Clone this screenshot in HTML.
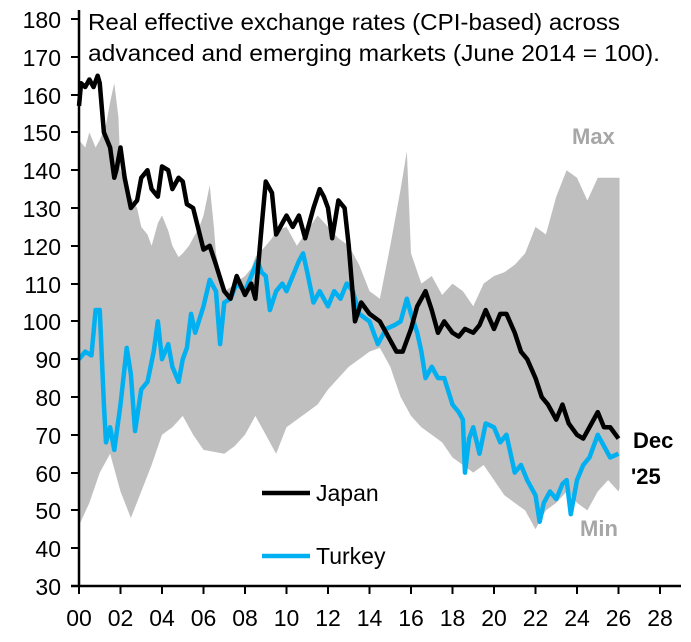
<!DOCTYPE html>
<html><head><meta charset="utf-8"><style>
body{margin:0;background:#fff;}
svg text{font-family:"Liberation Sans",Calibri,sans-serif;}
</style></head><body>
<svg width="691" height="637" xmlns="http://www.w3.org/2000/svg">
<g transform="translate(79,586) scale(20.75,-3.78)">
<polygon fill="#bfbfbf" points="0,118 0.3,116 0.5,120 0.8,116 1,118 1.3,122 1.5,128 1.7,133 1.9,124 2,110 2.3,106 2.5,103 2.8,100 3,95 3.3,93 3.5,90 3.8,96 4,98 4.3,94 4.5,90 4.8,87 5,88 5.3,90 5.5,92 5.8,95 6,98 6.3,106 6.5,95 6.6,88 7,78 7.3,79 7.5,80 8,82 8.3,84 8.5,87 9,90 9.3,92 9.5,94 10,95 10.3,92 10.5,90 11,94 11.5,98 12,95 12.5,92 13,90 13.5,85 14,78 14.5,76 15,90 15.5,105 15.8,115 16,88 16.5,80 17,82 17.5,77 18,80 18.5,78 19,74 19.5,80 20,82 20.5,83 21,85 21.5,88 22,95 22.5,93 23,103 23.5,110 24,108 24.5,102 25,108 25.5,108 26,108 26.05,108 26.05,26 26,25 25.5,28 25,25 24.5,20 24,22 23.5,25 23,22 22.5,20 22,15 21.5,20 21,22 20.5,24 20,28 19.5,32 19,30 18.5,32 18,34 17.5,38 17,40 16.5,42 16,45 15.5,50 15,58 14.5,63 14,62 13.5,60 13,58 12.5,55 12,52 11.5,48 11,46 10,42 9.5,35 9,40 8.5,45 8,40 7.5,37 7,35 6,36 5.5,40 5,45 4.5,42 4,40 3.5,32 3,25 2.5,18 2,25 1.5,35 1,30 0.5,22 0,16"/>
<polyline fill="none" stroke="#00b0f0" stroke-width="4.5" stroke-linejoin="round" vector-effect="non-scaling-stroke" points="0,60 0.3,62 0.6,61 0.8,73 1,73 1.2,48 1.3,38 1.5,42 1.7,36 2,48 2.3,63 2.5,56 2.7,41 3,52 3.3,54 3.6,62 3.8,70 4,60 4.3,64 4.5,58 4.8,54 5,60 5.2,63 5.4,72 5.6,67 6,74 6.3,81 6.6,78 6.8,64 7,75 7.3,76 7.6,80 8,78 8.3,82 8.6,86 8.8,83 9,82 9.2,73 9.5,78 9.8,80 10,78 10.3,82 10.6,86 10.8,88 11,83 11.3,75 11.6,78 12,74 12.3,78 12.6,76 12.9,80 13.2,78 13.5,72 14,70 14.4,64 14.8,68 15.2,69 15.5,70 15.8,76 16,72 16.3,67 16.5,62 16.7,55 17,58 17.3,55 17.6,55 18,48 18.3,46 18.5,44 18.6,30 18.8,39 19,42 19.3,35 19.6,43 20,42 20.3,38 20.6,40 21,30 21.3,32 21.6,28 22,24 22.2,17 22.4,22 22.7,25 23,23 23.3,27 23.5,28 23.7,19 24,28 24.3,32 24.6,34 25,40 25.3,37 25.6,34 26,35"/>
<polyline fill="none" stroke="#000" stroke-width="4.5" stroke-linejoin="round" vector-effect="non-scaling-stroke" points="0,127 0.1,133 0.3,132 0.5,134 0.7,132 0.9,135 1,133 1.2,120 1.5,116 1.7,108 1.8,110 2,116 2.2,108 2.5,100 2.8,102 3,108 3.3,110 3.5,105 3.8,103 4,111 4.3,110 4.5,105 4.8,108 5,107 5.2,101 5.5,100 6,89 6.3,90 6.6,85 7,78 7.3,76 7.6,82 8,77 8.3,80 8.5,76 8.8,95 9,107 9.3,104 9.5,93 9.8,96 10,98 10.3,95 10.6,98 10.9,92 11.3,100 11.6,105 11.8,103 12,100 12.2,92 12.5,102 12.8,100 13,90 13.3,70 13.6,75 14,72 14.5,70 14.8,67 15,65 15.3,62 15.6,62 16,68 16.3,74 16.7,78 17,73 17.3,67 17.6,70 18,67 18.3,66 18.6,68 19,67 19.3,69 19.6,73 20,68 20.3,72 20.6,72 21,67 21.3,62 21.6,60 22,55 22.3,50 22.6,48 23,44 23.3,48 23.6,43 24,40 24.3,39 24.6,42 25,46 25.3,42 25.6,42 26,39"/>
</g>
<g stroke="#000" stroke-width="2.5">
<line x1="79" y1="10" x2="79" y2="587"/>
<line x1="71" y1="586" x2="681" y2="586"/>
</g>
<g stroke="#000" stroke-width="2">
<path d="M71 548H79M71 510H79M71 473H79M71 435H79M71 397H79M71 359H79M71 321H79M71 284H79M71 246H79M71 208H79M71 170H79M71 132H79M71 95H79M71 57H79M71 19H79"/>
<path d="M79 586v8M120.5 586v8M162 586v8M203.5 586v8M245 586v8M286.5 586v8M328 586v8M369.5 586v8M411 586v8M452.5 586v8M494 586v8M535.5 586v8M577 586v8M618.5 586v8M660 586v8"/>
</g>
<g font-size="23" text-anchor="end" fill="#000">
<text x="61" y="595">30</text><text x="61" y="557">40</text><text x="61" y="519">50</text><text x="61" y="482">60</text><text x="61" y="444">70</text><text x="61" y="406">80</text><text x="61" y="368">90</text><text x="61" y="330">100</text><text x="61" y="293">110</text><text x="61" y="255">120</text><text x="61" y="217">130</text><text x="61" y="179">140</text><text x="61" y="141">150</text><text x="61" y="104">160</text><text x="61" y="66">170</text><text x="61" y="28">180</text>
</g>
<g font-size="23" text-anchor="middle" fill="#000">
<text x="79" y="626">00</text><text x="120.5" y="626">02</text><text x="162" y="626">04</text><text x="203.5" y="626">06</text><text x="245" y="626">08</text><text x="286.5" y="626">10</text><text x="328" y="626">12</text><text x="369.5" y="626">14</text><text x="411" y="626">16</text><text x="452.5" y="626">18</text><text x="494" y="626">20</text><text x="535.5" y="626">22</text><text x="577" y="626">24</text><text x="618.5" y="626">26</text><text x="660" y="626">28</text>
</g>
<text x="88" y="30" font-size="23" textLength="532" lengthAdjust="spacingAndGlyphs">Real effective exchange rates (CPI-based) across</text>
<text x="88" y="61" font-size="23" textLength="572" lengthAdjust="spacingAndGlyphs">advanced and emerging markets (June 2014 = 100).</text>
<text x="572" y="144" font-size="22" font-weight="bold" fill="#a6a6a6">Max</text>
<text x="580" y="536" font-size="22" font-weight="bold" fill="#a6a6a6">Min</text>
<text x="633" y="448" font-size="22" font-weight="bold">Dec</text>
<text x="631" y="484" font-size="22" font-weight="bold">'25</text>
<line x1="262" y1="493" x2="310" y2="493" stroke="#000" stroke-width="4.5"/>
<text x="316" y="501" font-size="23">Japan</text>
<line x1="262" y1="556" x2="310" y2="556" stroke="#00b0f0" stroke-width="4.5"/>
<text x="316" y="564" font-size="23">Turkey</text>
</svg>
</body></html>
